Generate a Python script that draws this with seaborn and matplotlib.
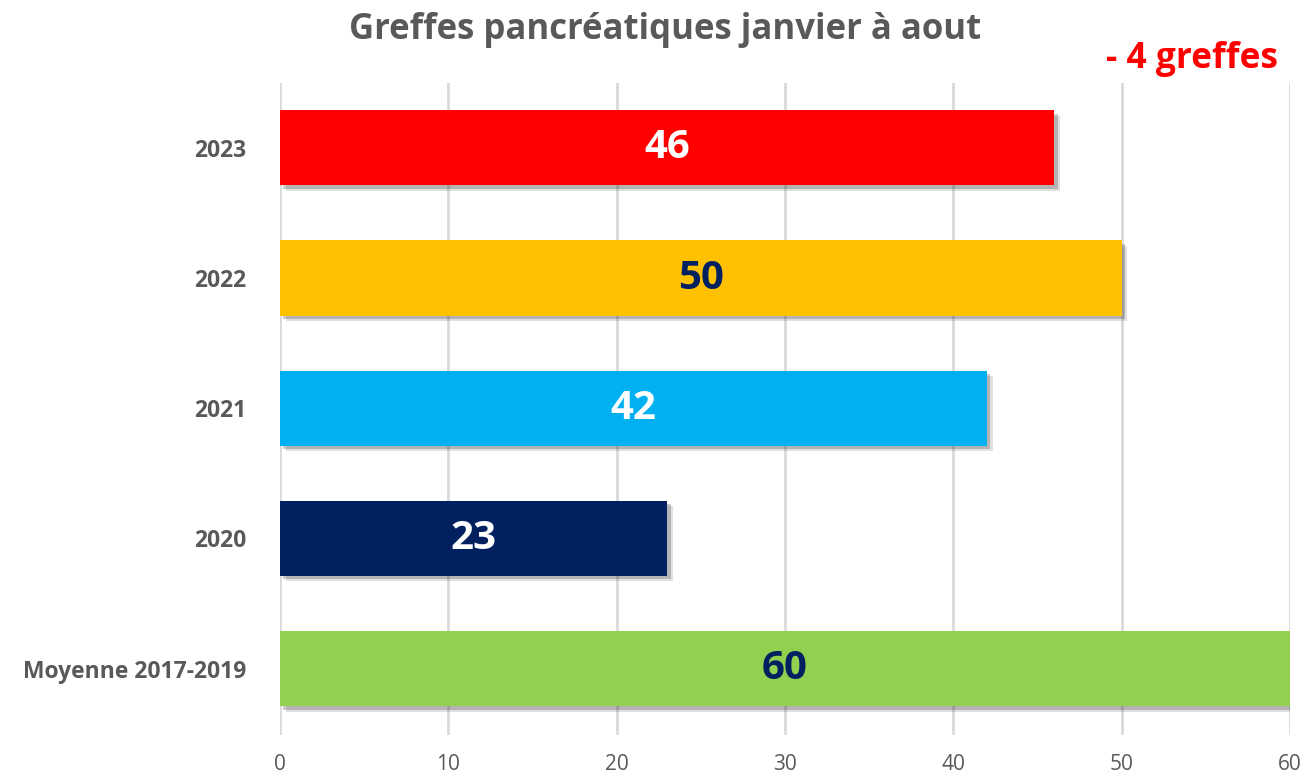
import seaborn as sns
import matplotlib.pyplot as plt
import matplotlib.patheffects as pe
import pandas as pd

categories = ["2023", "2022", "2021", "2020", "Moyenne 2017-2019"]
greffes = [46, 50, 42, 23, 60]
bar_colors = ["#FF0000", "#FFC000", "#00B0F0", "#002060", "#92D050"]
label_colors = ["white", "#002060", "white", "white", "#002060"]
x_ticks = [0, 10, 20, 30, 40, 50, 60]

df = pd.DataFrame({"annee": categories, "greffes": greffes})

sns.set_style("white")
plt.rcParams["font.family"] = ["Open Sans", "DejaVu Sans"]

fig = plt.figure(figsize=(13.06, 7.81), dpi=100)
ax = fig.add_axes([0.2144, 0.059, 0.7733, 0.835])

sns.barplot(data=df, x="greffes", y="annee", hue="annee", palette=bar_colors,
            order=categories, legend=False, width=0.577, saturation=1,
            linewidth=0, ax=ax)

# soft drop shadow, like the office chart
for bar in ax.patches:
    bar.set_path_effects([
        pe.SimplePatchShadow(offset=(4, -4), alpha=0.15, shadow_rgbFace="#333333"),
        pe.SimplePatchShadow(offset=(2.5, -2.5), alpha=0.25, shadow_rgbFace="#333333"),
        pe.Normal()])

for i, (val, col) in enumerate(zip(greffes, label_colors)):
    ax.text(val / 2, i, str(val), ha="center", va="center", color=col,
            fontsize=29, fontweight="bold")

ax.set_xlim(0, 60)
ax.set_ylim(4.51, -0.5)
ax.set_xticks(x_ticks)
ax.set_xticklabels([str(t) for t in x_ticks], fontsize=15, color="#595959")
ax.tick_params(axis="y", labelsize=16.5, labelcolor="#595959", length=0, pad=24)
ax.tick_params(axis="x", length=0, pad=14)
for lbl in ax.get_yticklabels():
    lbl.set_fontweight("bold")
ax.set_xlabel("")
ax.set_ylabel("")
ax.grid(axis="x", color="#D9D9D9", linewidth=2)
ax.set_axisbelow(True)
sns.despine(ax=ax, left=True, bottom=True)

fig.text(0.509, 0.962, "Greffes pancréatiques janvier à aout", ha="center", va="center",
         fontsize=25, fontweight="bold", color="#595959")
fig.text(0.913, 0.925, "- 4 greffes", ha="center", va="center",
         fontsize=25.5, fontweight="bold", color="#FF0000")

fig.savefig("out.png", dpi=100)
